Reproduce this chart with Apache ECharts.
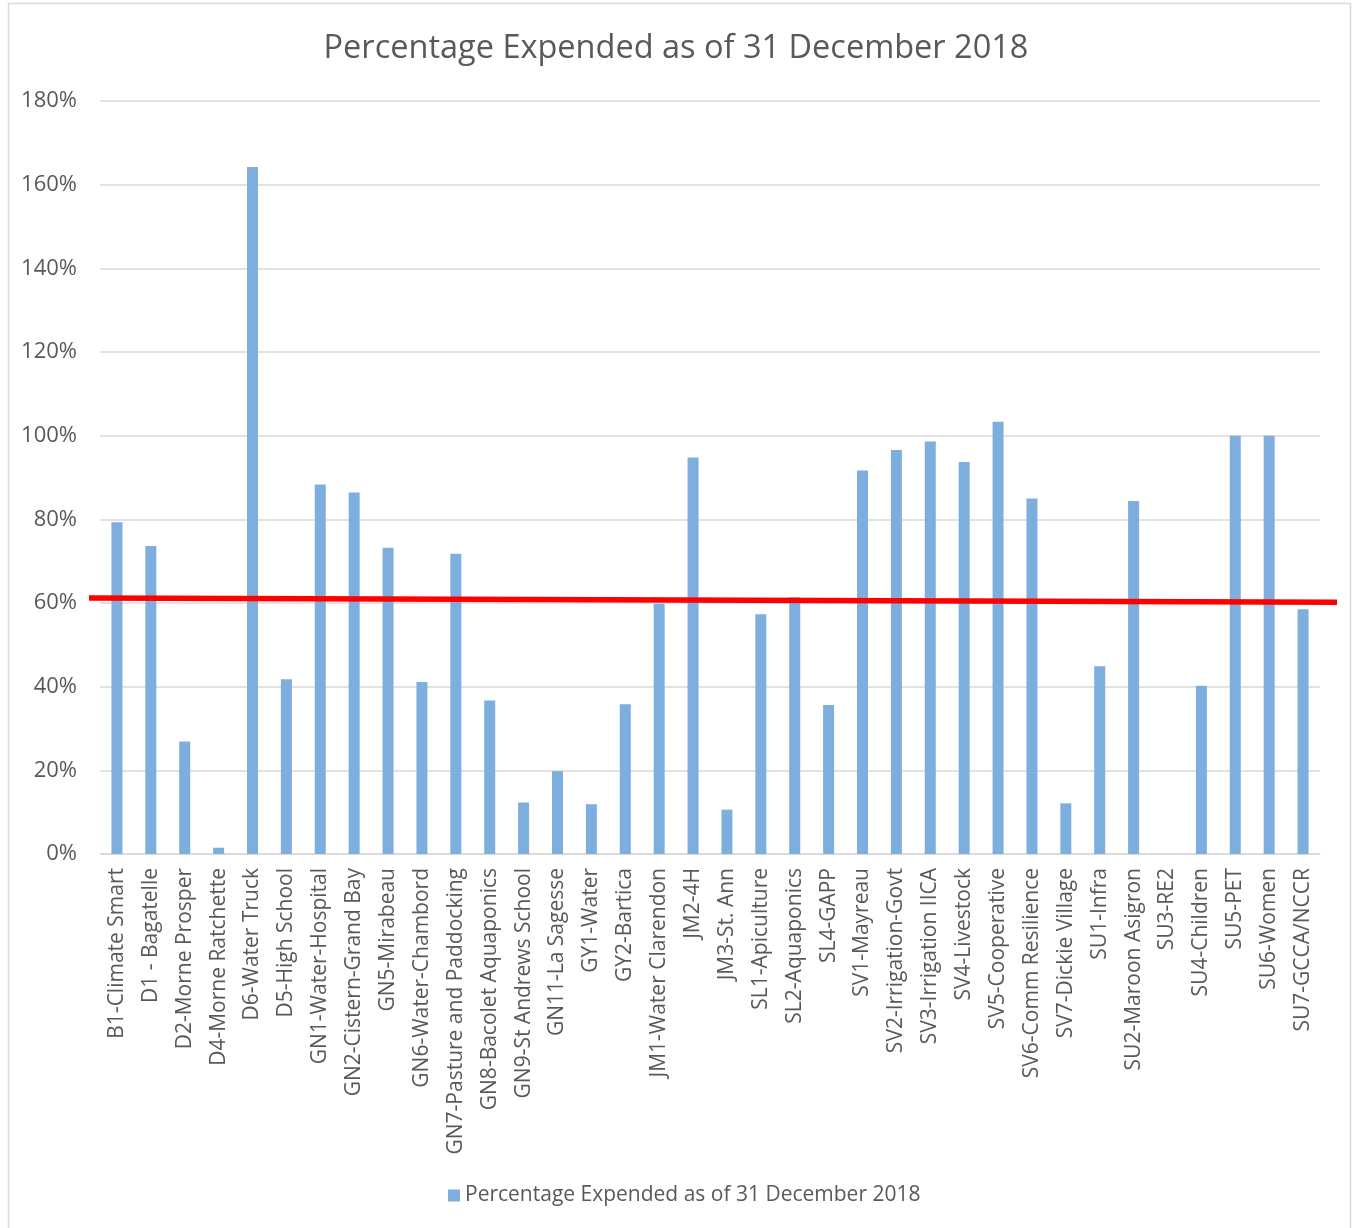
<!DOCTYPE html>
<html>
<head>
<meta charset="utf-8">
<script src="https://cdn.jsdelivr.net/npm/echarts@6/dist/echarts.min.js"></script>
<style>
html,body{margin:0;padding:0;background:#fff;}
#chart{width:1352px;height:1228px;}
</style>
</head>
<body>
<div id="chart"></div>
<script>
const titleText = 'Percentage Expended as of 31 December 2018';
const seriesName = 'Percentage Expended as of 31 December 2018';
const categories = [
  'B1-Climate Smart','D1 - Bagatelle','D2-Morne Prosper','D4-Morne Ratchette','D6-Water Truck',
  'D5-High School','GN1-Water-Hospital','GN2-Cistern-Grand Bay','GN5-Mirabeau','GN6-Water-Chambord',
  'GN7-Pasture and Paddocking','GN8-Bacolet Aquaponics','GN9-St Andrews School','GN11-La Sagesse','GY1-Water',
  'GY2-Bartica','JM1-Water Clarendon','JM2-4H','JM3-St. Ann','SL1-Apiculture',
  'SL2-Aquaponics','SL4-GAPP','SV1-Mayreau','SV2-Irrigation-Govt','SV3-Irrigation IICA',
  'SV4-Livestock','SV5-Cooperative','SV6-Comm Resilience','SV7-Dickie Village','SU1-Infra',
  'SU2-Maroon Asigron','SU3-RE2','SU4-Children','SU5-PET','SU6-Women','SU7-GCCA/NCCR'
];
const percentExpended = [
  79.3, 73.6, 26.9, 1.5, 164.2,
  41.8, 88.3, 86.4, 73.2, 41.1,
  71.8, 36.7, 12.3, 19.8, 11.9,
  35.8, 59.8, 94.8, 10.6, 57.3,
  61.4, 35.6, 91.7, 96.6, 98.6,
  93.7, 103.3, 85.0, 12.1, 44.9,
  84.4, 0, 40.2, 100, 100, 58.5
];
const yTicks = [0, 20, 40, 60, 80, 100, 120, 140, 160, 180];
// red reference line: start and end values (%)
const redLine = [[0, 61.2], [1, 60.2]];

const FONT = 'Open Sans';
const chart = echarts.init(document.getElementById('chart'), null, {renderer: 'canvas'});
chart.setOption({
  animation: false,
  backgroundColor: '#ffffff',
  title: {
    text: titleText,
    left: 'center',
    top: 27,
    textStyle: {fontFamily: FONT, fontSize: 32.5, fontWeight: 'normal', color: '#595959'}
  },
  legend: {
    bottom: 17,
    left: 443,
    itemWidth: 12,
    itemHeight: 12,
    itemGap: 10,
    data: [{name: seriesName, icon: 'rect'}],
    textStyle: {fontFamily: FONT, fontSize: 21, color: '#595959'}
  },
  graphic: [{
    type: 'rect',
    left: 6, top: 1,
    shape: {width: 1342, height: 1250},
    style: {fill: 'none', stroke: '#D9D9D9', lineWidth: 1.5},
    silent: true, z: -1
  }],
  grid: [
    {left: 100, right: 32, top: 101, bottom: 374, containLabel: false},
    {left: 89, right: 15, top: 101, bottom: 374, containLabel: false}
  ],
  xAxis: [
    {
      type: 'category',
      gridIndex: 0,
      data: categories,
      axisTick: {show: false},
      axisLine: {show: true, lineStyle: {color: '#D9D9D9', width: 1.5}},
      axisLabel: {
        interval: 0,
        rotate: 90,
        margin: 14,
        fontFamily: FONT,
        fontSize: 21,
        color: '#595959'
      }
    },
    {type: 'value', gridIndex: 1, min: 0, max: 1, show: false}
  ],
  yAxis: [
    {
      type: 'value',
      gridIndex: 0,
      min: 0, max: 180, interval: 20,
      axisLine: {show: false},
      axisTick: {show: false},
      splitLine: {lineStyle: {color: '#D9D9D9', width: 1.5}},
      axisLabel: {
        margin: 23,
        fontFamily: FONT,
        fontSize: 22,
        color: '#595959',
        formatter: v => yTicks.includes(v) ? v + '%' : ''
      }
    },
    {type: 'value', gridIndex: 1, min: 0, max: 180, show: false}
  ],
  series: [
    {
      name: seriesName,
      type: 'bar',
      xAxisIndex: 0, yAxisIndex: 0,
      data: percentExpended,
      barWidth: 11,
      itemStyle: {color: '#7EAEDD'}
    },
    {
      name: 'redline',
      type: 'line',
      xAxisIndex: 1, yAxisIndex: 1,
      data: redLine,
      symbol: 'none',
      lineStyle: {color: '#FF0000', width: 5.5},
      z: 5
    }
  ]
});
</script>
</body>
</html>
